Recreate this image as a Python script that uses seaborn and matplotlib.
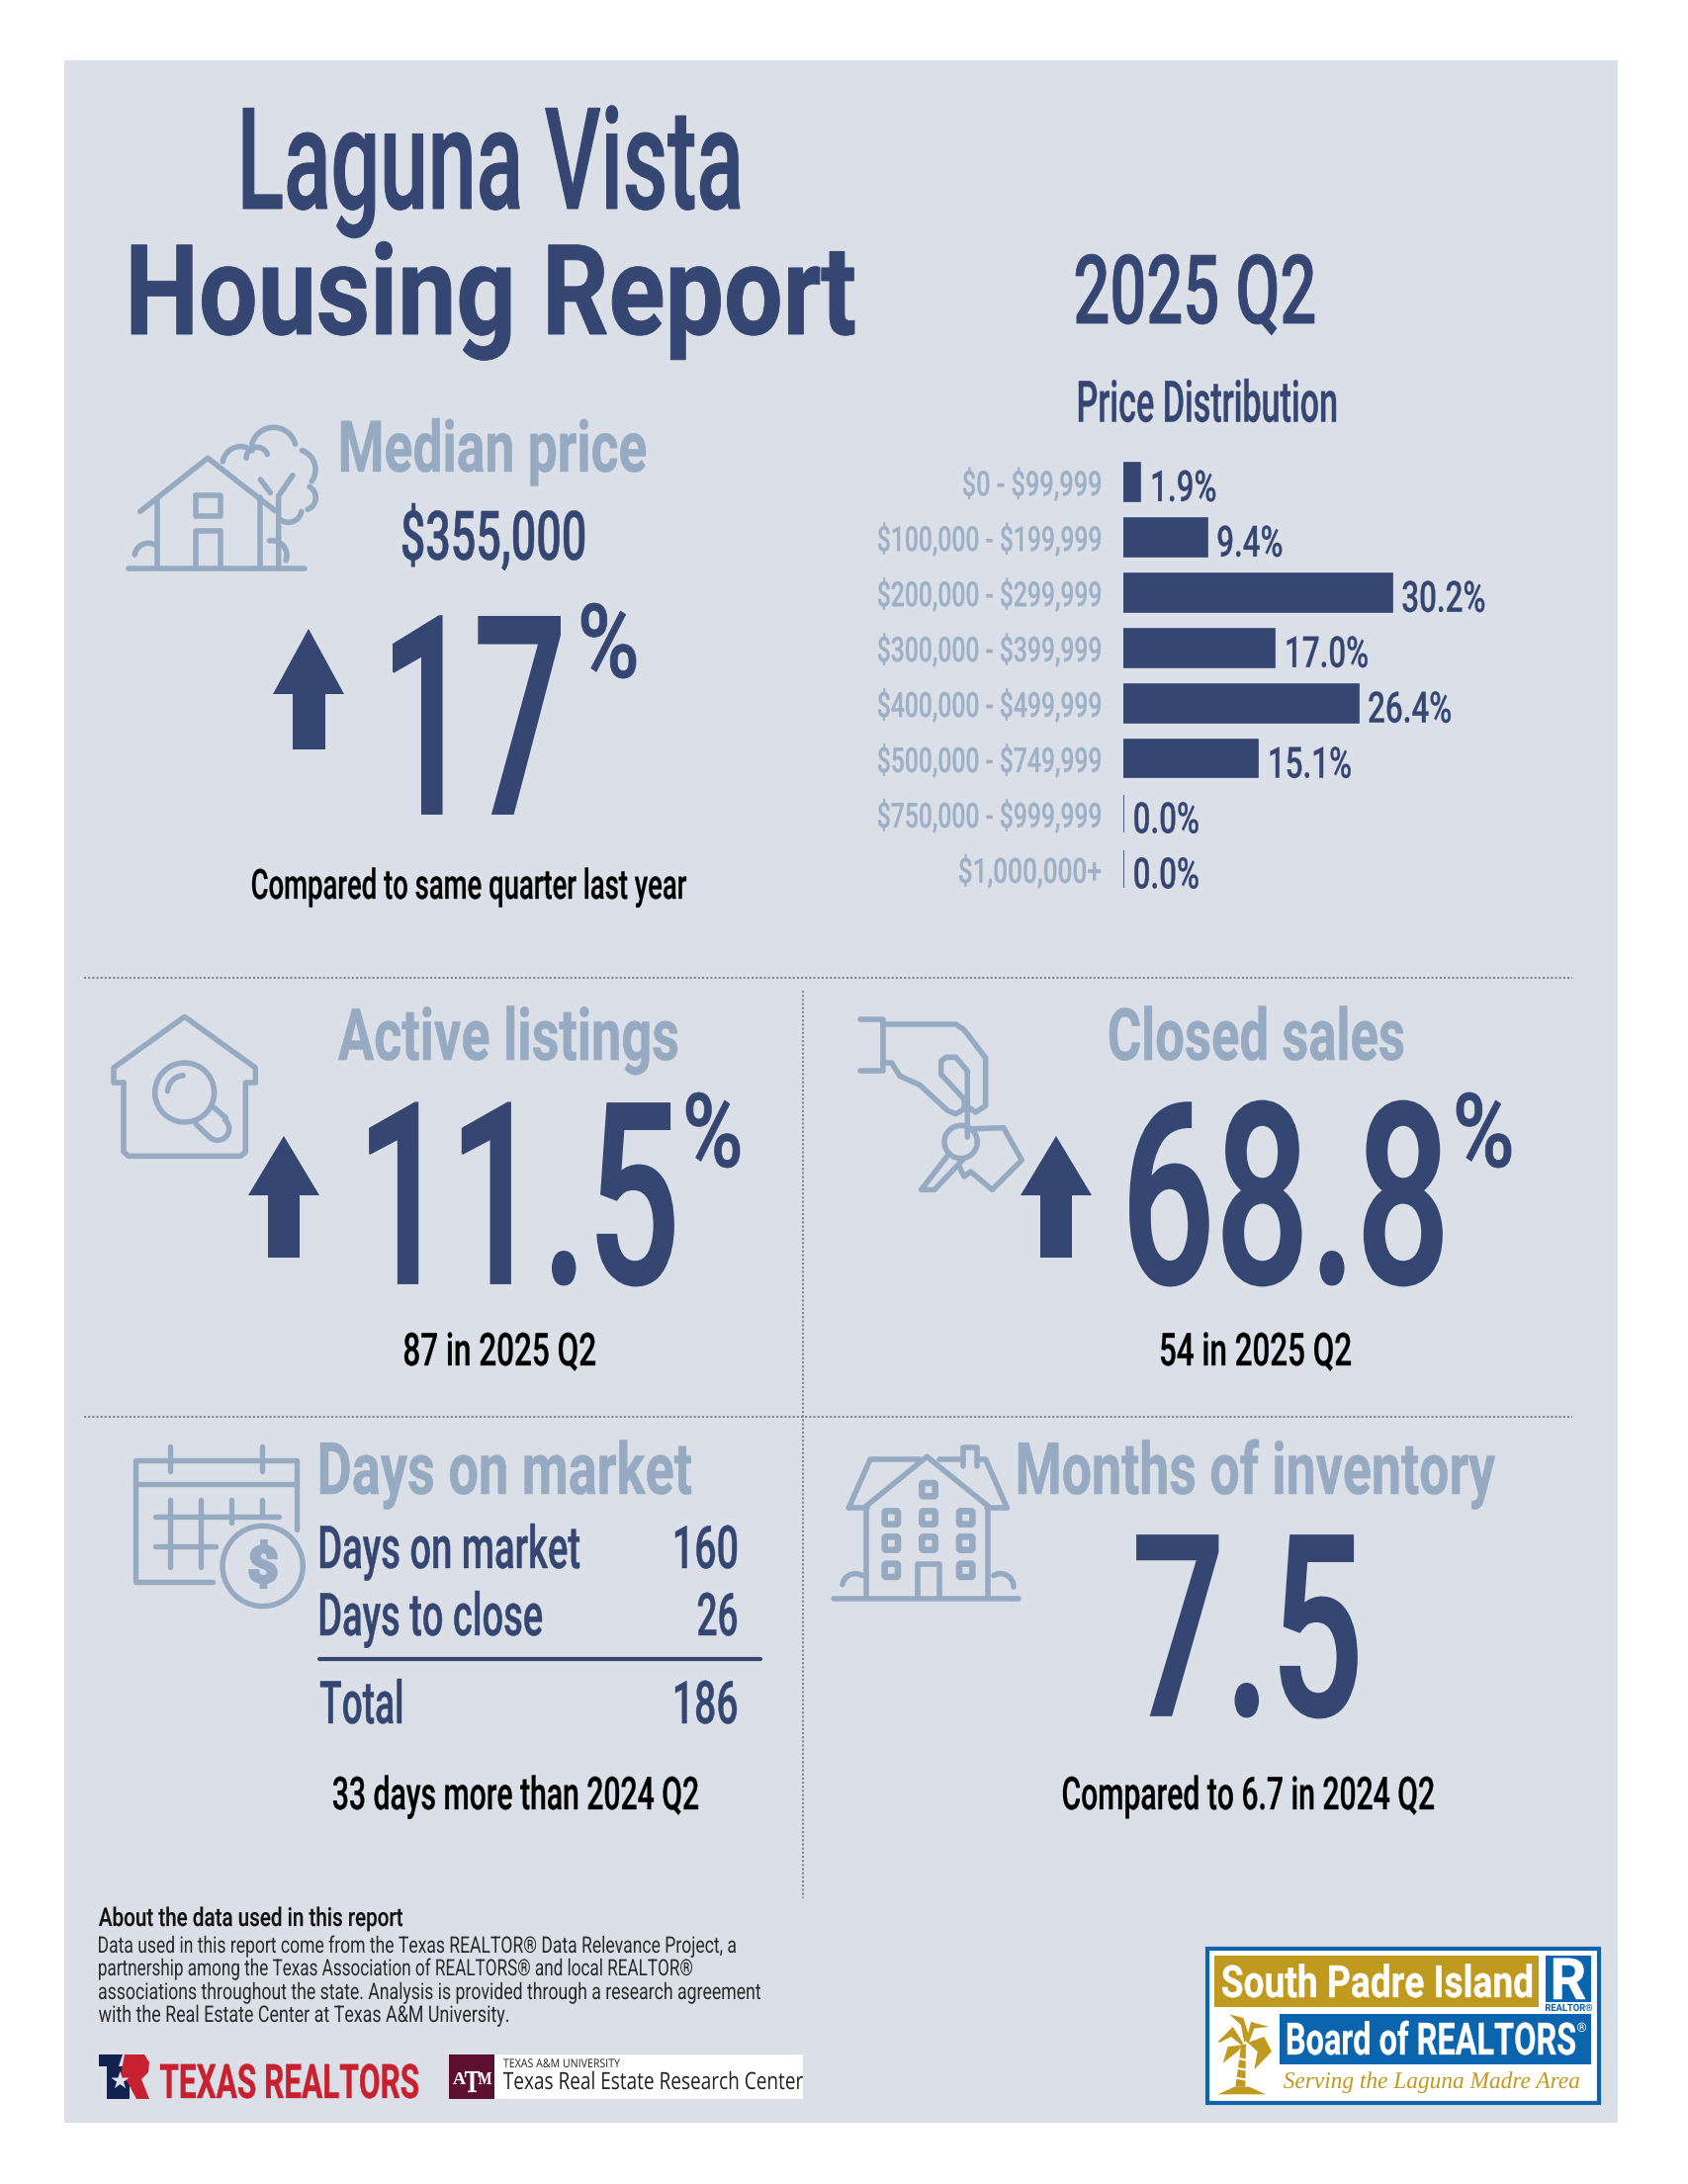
import numpy as np
import pandas as pd
import matplotlib
matplotlib.use('Agg')
import matplotlib.pyplot as plt
import seaborn as sns
from matplotlib.patches import Rectangle, Polygon, FancyBboxPatch
from matplotlib.patheffects import AbstractPathEffect
from matplotlib.transforms import Affine2D

price_bands = ['$0 - $99,999', '$100,000 - $199,999', '$200,000 - $299,999', '$300,000 - $399,999',
               '$400,000 - $499,999', '$500,000 - $749,999', '$750,000 - $999,999', '$1,000,000+']
price_share = [1.9, 9.4, 30.2, 17.0, 26.4, 15.1, 0.0, 0.0]
band_label_left = [974, 888, 888, 888, 888, 888, 888, 970]

NAVY = '#354672'
SOFT = '#96aac2'
BG = '#dbe0e8'
W, H = 1707, 2209
BASE_SHRINK = 0.62

sns.set_theme(style='white')
plt.rcParams['font.family'] = ['Roboto', 'DejaVu Sans']


# no condensed font here: text is set small, then stretched up and fitted to its width when drawn
class Fit(AbstractPathEffect):
    def __init__(self, left=None, right=None, squeeze=None, grow=0, tall=1.0):
        self.left, self.right, self.squeeze, self.grow, self.tall = left, right, squeeze, grow, tall

    def draw_path(self, renderer, gc, tpath, affine, rgbFace=None):
        base = Affine2D().scale(1, self.tall) + affine
        ext = tpath.get_extents(base)
        if self.squeeze is not None:
            sx, ox = self.squeeze, ext.x0
        else:
            sx, ox = (self.right - self.left) / ext.width, self.left
        tr = base + Affine2D().translate(-ext.x0, 0).scale(sx, 1).translate(ox, 0)
        if self.grow:
            gc0 = renderer.new_gc()
            gc0.copy_properties(gc)
            gc0.set_linewidth(self.grow)
            gc0.set_foreground(rgbFace)
            gc0.set_joinstyle('miter')
            renderer.draw_path(gc0, tpath, tr, rgbFace)
            gc0.restore()
        else:
            renderer.draw_path(gc, tpath, tr, rgbFace)


fig = plt.figure(figsize=(W / 100, H / 100), dpi=100, facecolor='white')
ov = fig.add_axes([0, 0, 1, 1])
ov.set_xlim(0, W)
ov.set_ylim(H, 0)
ov.axis('off')
ov.add_patch(Rectangle((65, 61), 1571, 2086, color=BG, lw=0, zorder=0))


def label(s, x0, x1, base, em, color=NAVY, weight='medium', grow=None, **kw):
    if grow is None:
        grow = 0 if weight == 'normal' else em * 0.005
    fx = Fit(x0, x1, grow=grow, tall=1 / BASE_SHRINK)
    return ov.text((x0 + x1) / 2, base, s, ha='center', va='baseline', fontsize=em * 0.72 * BASE_SHRINK,
                   color=color, fontweight=weight, path_effects=[fx], zorder=5, parse_math=False, **kw)


def arc(cx, cy, r, a0, a1, n=40):
    t = np.radians(np.linspace(a0, a1, n))
    return list(zip(cx + r * np.cos(t), cy - r * np.sin(t)))


def strokes(x0, y0, paths, lw=4.0, color=SOFT, scale=1 / 3):
    for p in paths:
        p = np.array(p, dtype=float)
        ov.plot(x0 + p[:, 0] * scale, y0 + p[:, 1] * scale, color=color, lw=lw,
                solid_capstyle='round', solid_joinstyle='round', zorder=3)


def up_arrow(cx):
    ov.add_patch(Polygon([(cx, 1149), (cx + 36, 1209), (cx + 16, 1209), (cx + 16, 1272),
                          (cx - 16, 1272), (cx - 16, 1209), (cx - 36, 1209)],
                         color=NAVY, lw=0, zorder=3))


# header
label('Laguna Vista', 246, 748, 211, 143)
label('Housing Report', 133, 864, 338, 127, weight='bold')
label('2025 Q2', 1088, 1329, 327, 97)
label('Price Distribution', 1091, 1351, 426.5, 58)

# median price block
label('Median price', 345, 653, 477, 72, color=SOFT, weight='bold')
label('$355,000', 407, 591, 566, 69)
ov.add_patch(Polygon([(312, 636), (348, 702), (329, 702), (329, 758), (296, 758), (296, 702), (276, 702)],
                     color=NAVY, lw=0, zorder=3))
label('17', 398, 566, 823, 280)
label('%', 588, 643, 685, 104)
label('Compared to same quarter last year', 255, 694, 909, 42, color='black')

# price distribution bars
bars = pd.DataFrame({'band': price_bands, 'share': price_share})
px_per_pct = 9.0
bx = fig.add_axes([1136 / W, 1 - 907 / H, 365 / W, (907 - 459.5) / H])
sns.barplot(data=bars, x='share', y='band', order=price_bands, color=NAVY, saturation=1, width=0.69,
            edgecolor=NAVY, linewidth=1.2, ax=bx)
bx.set_xlim(0, 365 / px_per_pct)
bx.patch.set_alpha(0)
bx.set_xlabel('')
bx.set_ylabel('')
bx.set_xticks([])
sns.despine(ax=bx, left=True, bottom=True)
bx.tick_params(axis='y', length=0, pad=16)
for tl, left in zip(bx.get_yticklabels(), band_label_left):
    tl.set_parse_math(False)
    tl.set_fontsize(35 * 0.72)
    tl.set_color('#9db0c6')
    tl.set_fontweight('medium')
    tl.set_path_effects([Fit(left, 1113, grow=0.2)])
for i, v in enumerate(price_share):
    bx.annotate(f'{v:.1f}%', xy=(v, i), xytext=(6.5, -14), textcoords='offset points', va='baseline',
                fontsize=43.5 * 0.72, color=NAVY, fontweight='medium', path_effects=[Fit(squeeze=0.72, grow=0.2)],
                annotation_clip=False)

# dividers
for xs, ys in [((85, 1590), (989, 989)), ((85, 1590), (1433, 1433)), ((812, 812), (1002, 1920))]:
    ov.plot(xs, ys, color='#7f8796', lw=1.5, ls=(0, (1, 1)), zorder=1)

# active listings / closed sales
label('Active listings', 342, 685, 1072, 73, color=SOFT, weight='bold')
label('Closed sales', 1122, 1419, 1072, 73, color=SOFT, weight='bold')
up_arrow(287)
up_arrow(1068)
label('11.5', 374, 681, 1298, 256)
label('%', 694, 748, 1180, 104)
label('68.8', 1143, 1458, 1298, 256)
label('%', 1473, 1528, 1180, 104)
label('87 in 2025 Q2', 409, 602, 1381, 46, color='black')
label('54 in 2025 Q2', 1174, 1366, 1381, 46, color='black')

# days on market table
label('Days on market', 324, 699, 1511, 73, color=SOFT, weight='bold')
label('Days on market', 324, 586, 1586, 60)
label('160', 683, 745, 1586, 60)
label('Days to close', 324, 548, 1654, 60)
label('26', 706, 745, 1654, 60)
ov.plot((323, 769), (1678, 1678), color=NAVY, lw=3, zorder=3)
label('Total', 324, 406, 1743, 60)
label('186', 683, 745, 1743, 60)
label('33 days more than 2024 Q2', 337, 706, 1830, 46, color='black')

# months of inventory
label('Months of inventory', 1030, 1512, 1511, 73, color=SOFT, weight='bold')
label('7.5', 1150, 1372, 1735, 256)
label('Compared to 6.7 in 2024 Q2', 1075, 1450, 1830, 46, color='black')

# footer text
label('About the data used in this report', 100, 407, 1948, 26, color='#111111')
foot = ['Data used in this report come from the Texas REALTOR® Data Relevance Project, a',
        'partnership among the Texas Association of REALTORS® and local REALTOR®',
        'associations throughout the state. Analysis is provided through a research agreement',
        'with the Real Estate Center at Texas A&M University.']
for s, x1, base in zip(foot, [744, 700, 769, 514], [1975, 1998, 2022, 2045]):
    label(s, 100, x1, base, 23, color='#2a2a2a', weight='normal')

# icon: house with tree
strokes(110, 420, [
    [(60, 465), (595, 465)], [(95, 292), (300, 130), (505, 290)],
    [(147, 260), (147, 460)], [(458, 250), (458, 460)],
    [(265, 243), (340, 243), (340, 305), (265, 305), (265, 243)],
    [(265, 460), (265, 350), (340, 350), (340, 460)],
    [(515, 460), (515, 245), (558, 182)], [(460, 195), (490, 235)],
    arc(400, 150, 55, 170, 50), arc(500, 105, 68, 165, 15), arc(565, 165, 62, 70, -35),
    arc(590, 250, 38, 60, -70), arc(545, 285, 40, -10, -130),
    arc(450, 130, 33, 180, 20), arc(120, 430, 42, 170, 50), arc(495, 425, 45, 100, -20),
])

# icon: house with magnifier
strokes(100, 1010, [
    [(75, 255), (45, 255), (45, 210), (260, 55), (475, 210), (475, 255), (445, 255), (445, 465),
     (430, 478), (90, 478), (75, 465), (75, 255)],
    arc(260, 285, 90, 0, 360), arc(260, 285, 52, 175, 95),
    [(348, 330), (385, 362)] + arc(360, 395, 35, 50, -130) + [(295, 382)],
])

# icon: hand with keys
strokes(860, 1010, [
    [(30, 62), (98, 62), (98, 220), (30, 220)],
    [(98, 78), (320, 78), (345, 95), (410, 180), (410, 325), (380, 345), (350, 325)],
    [(98, 195), (125, 195), (150, 235), (210, 262), (295, 340), (320, 350), (345, 335), (345, 305)],
    [(355, 420), (355, 220), (320, 178), (290, 178), (275, 190), (275, 230), (345, 305)],
    arc(335, 435, 50, 0, 360),
    [(300, 470), (215, 580), (255, 580), (340, 490)],
    [(375, 395), (465, 392), (480, 420), (520, 490), (430, 580), (365, 525), (345, 540), (330, 510)],
])

# icon: calendar
strokes(125, 1450, [
    [(270, 450), (35, 450), (35, 80), (525, 80), (525, 290)], [(35, 153), (525, 153)],
    [(140, 40), (140, 115)], [(420, 40), (420, 115)],
    [(95, 253), (470, 253)], [(95, 343), (280, 343)],
    [(142, 200), (142, 405)], [(233, 200), (233, 405)], [(327, 200), (327, 270)], [(420, 200), (420, 253)],
    arc(422, 402, 122, 0, 360),
], lw=3.9)
label('$', 253, 279, 1600, 50, color=SOFT, weight='bold', grow=2.5)

# icon: big house
strokes(840, 1450, [
    [(10, 500), (570, 500)], [(55, 225), (120, 78), (270, 78)], [(330, 78), (403, 78)], [(445, 78), (470, 78), (535, 225)],
    [(55, 225), (110, 225)], [(475, 225), (535, 225)], [(105, 222), (292, 70), (480, 222)],
    [(108, 225), (108, 495)], [(478, 225), (478, 495)], [(403, 100), (403, 42), (445, 42), (445, 100)],
    [(265, 495), (265, 395), (330, 395), (330, 495)],
    arc(75, 465, 40, 170, 60), arc(515, 465, 40, 120, 0),
])
for cx, cy in [(297, 170), (184, 255), (297, 255), (410, 255), (184, 333), (297, 333), (410, 333), (184, 415), (410, 415)]:
    ov.add_patch(FancyBboxPatch((840 + (cx - 15) / 3, 1450 + (cy - 15) / 3), 10, 10, boxstyle='round,pad=1.7',
                                fc=BG, ec=SOFT, lw=4.7, zorder=3))

# logo: Texas Realtors
ov.add_patch(Polygon([(100, 2078), (124, 2078), (120, 2090), (131, 2090), (131, 2123), (108, 2123), (108, 2090), (100, 2090)],
                     color='#12224f', lw=0, zorder=3))
ov.add_patch(Polygon([(126, 2078), (146, 2078), (151, 2086), (150, 2096), (143, 2103), (151, 2123), (138, 2123),
                      (129, 2106), (122, 2099)], color='#c8202f', lw=0, zorder=3))
ov.scatter([121], [2104], marker='*', s=190, color=BG, lw=0, zorder=4)
label('TEXAS REALTORS', 162, 423, 2122, 48, color='#c8202f', weight='bold')

# logo: Texas A&M
ov.add_patch(Rectangle((500, 2078), 312, 45, color='white', lw=0, zorder=2))
ov.add_patch(Rectangle((454, 2078), 46, 45, color='#5c0f2e', lw=0, zorder=3))
label('A', 458, 471, 2108, 18, color='white', weight='bold', family='Liberation Serif')
label('T', 470, 485, 2116, 32, color='white', weight='bold', family='Liberation Serif')
label('M', 484, 497, 2108, 18, color='white', weight='bold', family='Liberation Serif')
label('TEXAS A&M UNIVERSITY', 509, 627, 2091, 12, color='#222222', weight='normal', family='Open Sans')
label('Texas Real Estate Research Center', 509, 812, 2113, 24, color='#222222', weight='normal', family='Open Sans')

# logo: South Padre Island board
GOLD = '#c09a1f'
BLUE = '#0a64ae'
ov.add_patch(Rectangle((1221, 1971), 396, 156, fc='white', ec=BLUE, lw=3, zorder=2))
ov.add_patch(Rectangle((1228, 1978), 328, 52, color=GOLD, lw=0, zorder=3))
ov.add_patch(Rectangle((1563, 1978), 46, 47, color=BLUE, lw=0, zorder=3))
ov.add_patch(Rectangle((1294, 2037), 315, 51, color=BLUE, lw=0, zorder=3))
label('South Padre Island', 1236, 1549, 2020, 45, color='white', weight='bold')
label('R', 1571, 1603, 2022, 58, color='white', weight='bold')
label('REALTOR®', 1563, 1610, 2034, 10, color=BLUE, weight='bold')
label('Board of REALTORS', 1302, 1593, 2078, 45, color='white', weight='bold')
label('®', 1595, 1604, 2055, 13, color='white', weight='normal')
label('Serving the Laguna Madre Area', 1298, 1597, 2112, 24, color=GOLD, weight='normal',
      family='Liberation Serif', style='italic')

# palm tree
palm = [[(95, 475), (145, 452), (190, 452), (240, 475)], [(148, 452), (165, 325), (180, 322), (178, 452)],
        [(175, 318), (165, 265), (130, 232), (172, 243), (190, 300)],
        [(172, 320), (140, 270), (95, 315), (100, 318), (135, 300), (165, 325)],
        [(170, 325), (125, 330), (110, 380), (155, 345)],
        [(180, 315), (195, 255), (250, 270), (205, 275), (188, 320)],
        [(185, 318), (235, 300), (258, 345), (205, 400), (215, 345)]]
for poly in palm:
    ov.add_patch(Polygon([(1200 + x / 3, 1960 + y / 3) for x, y in poly], color=GOLD, lw=0, zorder=3))
for y in [365, 395, 425]:
    ov.plot((1200 + 150 / 3, 1200 + 182 / 3), (1960 + y / 3, 1960 + (y + 6) / 3), color='white', lw=1.5, zorder=4)

plt.savefig('out.png', dpi=100, facecolor='white')
plt.close()
